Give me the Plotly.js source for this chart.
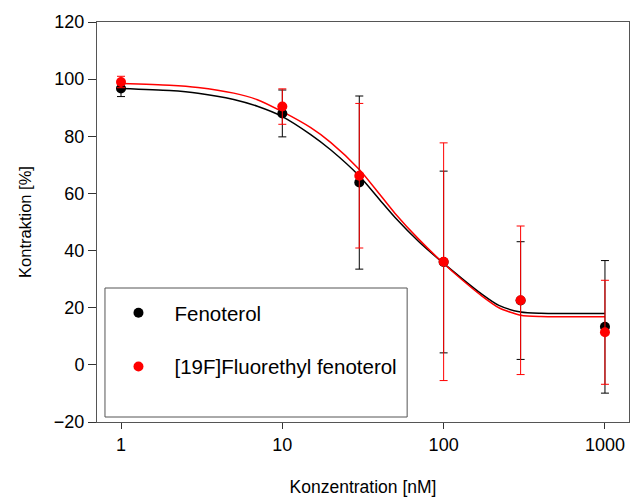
<!DOCTYPE html>
<html>
<head>
<meta charset="utf-8">
<script src="https://cdn.plot.ly/plotly-3.0.1.min.js"></script>
<style>html,body{margin:0;padding:0;background:#fff}#chart{width:641px;height:497px}</style>
</head>
<body>
<div id="chart"></div>
<script>
// Concentrations [nM]
const conc = [1, 10, 30, 100, 300, 1000];

// Fenoterol (black)
const fenoMean = [96.7, 88.0, 63.8, 36.0, 22.5, 13.3];
const fenoErr  = [2.8, 8.2, 30.3, 31.8, 20.6, 23.2];

// [19F]Fluorethyl fenoterol (red)
const fluoMean = [99.0, 90.4, 66.2, 36.1, 22.6, 11.4];
const fluoErr  = [2.0, 6.2, 25.3, 41.6, 26.0, 18.2];

// Fitted curves
const fitX     = [1, 2, 3, 5, 7, 10, 15, 20, 30, 40, 50, 70, 100, 130, 170, 220, 300, 400, 1000];
const fenoFit  = [96.7, 96.0, 95.1, 92.9, 90.5, 86.9, 80.6, 75.2, 66.1, 57.9, 51.6, 43.2, 35.5, 30.2, 25.0, 20.8, 18.5, 18.05, 18.0];
const fluoFit  = [98.5, 97.9, 97.1, 95.1, 92.8, 88.6, 83.0, 77.8, 68.4, 59.8, 53.0, 44.0, 35.5, 29.8, 24.4, 20.0, 17.4, 16.9, 16.85];

const names = ['Fenoterol', '[19F]Fluorethyl fenoterol'];
const xTicks = [1, 10, 100, 1000];
const yTicks = [-20, 0, 20, 40, 60, 80, 100, 120];

const FONT = 'Liberation Sans, Arial, sans-serif';

const traces = [
  {x: fitX, y: fenoFit, type: 'scatter', mode: 'lines', line: {color: '#000000', width: 1.5, shape: 'spline', smoothing: 0.7}, showlegend: false, hoverinfo: 'skip'},
  {x: fitX, y: fluoFit, type: 'scatter', mode: 'lines', line: {color: '#ff0000', width: 1.5, shape: 'spline', smoothing: 0.7}, showlegend: false, hoverinfo: 'skip'},
  {x: conc, y: fenoMean, name: names[0], legendgroup: 'a', type: 'scatter', mode: 'markers',
   marker: {color: '#000000', size: 10},
   error_y: {type: 'data', array: fenoErr, visible: true, color: '#000000', thickness: 1, width: 4}},
  {x: conc, y: fluoMean, name: names[1], legendgroup: 'b', type: 'scatter', mode: 'markers',
   marker: {color: '#ff0000', size: 10},
   error_y: {type: 'data', array: fluoErr, visible: true, color: '#ff0000', thickness: 1, width: 4}}
];

const layout = {
  width: 641, height: 497,
  margin: {l: 97, r: 12, t: 22, b: 75},
  paper_bgcolor: '#ffffff', plot_bgcolor: '#ffffff',
  font: {family: FONT, color: '#000000', size: 18},
  showlegend: true,
  legend: {
    x: 0.0103, xanchor: 'left', y: 0.3225, yanchor: 'top',
    bgcolor: 'rgba(0,0,0,0)', borderwidth: 0,
    font: {family: FONT, size: 20.5, color: '#000000'},
    traceorder: 'grouped', tracegroupgap: 24, itemwidth: 62
  },
  xaxis: {
    type: 'log', range: [-0.1488, 3.149],
    tickmode: 'array', tickvals: xTicks, ticktext: xTicks.map(String),
    ticks: 'outside', ticklen: 6, tickcolor: '#333333', tickwidth: 1,
    showline: true, linecolor: '#555555', linewidth: 1, mirror: true,
    showgrid: false, zeroline: false,
    tickfont: {family: FONT, size: 18},
    title: {text: 'Konzentration [nM]', font: {family: FONT, size: 17.5}, standoff: 30}
  },
  yaxis: {
    range: [-20, 120],
    tickmode: 'array', tickvals: yTicks,
    ticks: 'outside', ticklen: 8, tickcolor: '#333333', tickwidth: 1,
    showline: true, linecolor: '#555555', linewidth: 1, mirror: true,
    showgrid: false, zeroline: false,
    tickfont: {family: FONT, size: 18},
    title: {text: 'Kontraktion [%]', font: {family: FONT, size: 16.5}, standoff: 18}
  },
  shapes: [
    {type: 'rect', xref: 'paper', yref: 'paper', x0: 0.015, x1: 0.583, y0: 0.0125, y1: 0.335,
     line: {color: '#555555', width: 1}, fillcolor: 'rgba(0,0,0,0)'}
  ]
};

Plotly.newPlot('chart', traces, layout, {displayModeBar: false, staticPlot: true});
</script>
</body>
</html>
